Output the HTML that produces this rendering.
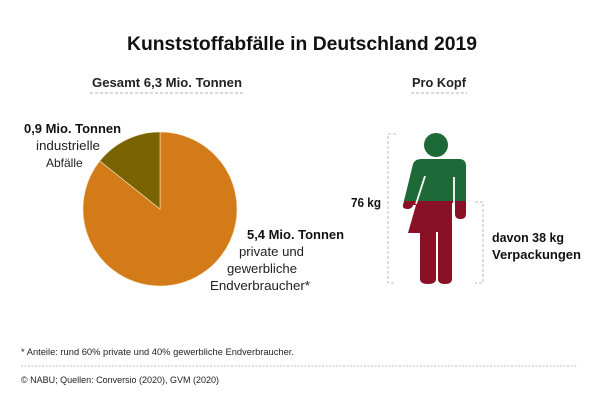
<!DOCTYPE html>
<html><head><meta charset="utf-8"><style>
html,body{margin:0;padding:0;background:#fff}
svg{display:block;font-family:"Liberation Sans",sans-serif}
</style></head><body>
<svg id="chart" width="600" height="400" viewBox="0 0 600 400">
<text x="302" y="50" text-anchor="middle" font-size="19" font-weight="bold" fill="#111" textLength="350" lengthAdjust="spacingAndGlyphs">Kunststoffabfälle in Deutschland 2019</text>
<text x="92" y="87" font-size="12.5" font-weight="bold" fill="#222" textLength="150" lengthAdjust="spacingAndGlyphs">Gesamt 6,3 Mio. Tonnen</text>
<line x1="90" y1="93" x2="245" y2="93" stroke="#999" stroke-dasharray="3,2" stroke-width="0.8"/>
<text x="412" y="87" font-size="12.5" font-weight="bold" fill="#222" textLength="54" lengthAdjust="spacingAndGlyphs">Pro Kopf</text>
<line x1="411" y1="93" x2="467" y2="93" stroke="#999" stroke-dasharray="3,2" stroke-width="0.8"/>
<g id="pie"></g>
<g>
<text x="24" y="133" font-size="12.5" font-weight="bold" fill="#111" textLength="97" lengthAdjust="spacingAndGlyphs">0,9 Mio. Tonnen</text>
<text x="36" y="150" font-size="12.5" fill="#222" textLength="64" lengthAdjust="spacingAndGlyphs">industrielle</text>
<text x="46" y="167" font-size="12" fill="#222">Abfälle</text>
</g>
<g>
<text x="247" y="239" font-size="12.5" font-weight="bold" fill="#111" textLength="97" lengthAdjust="spacingAndGlyphs">5,4 Mio. Tonnen</text>
<text x="239" y="256" font-size="12.5" fill="#222" textLength="65" lengthAdjust="spacingAndGlyphs">private und</text>
<text x="227" y="273" font-size="12.5" fill="#222" textLength="70" lengthAdjust="spacingAndGlyphs">gewerbliche</text>
<text x="210" y="290" font-size="12.5" fill="#222" textLength="100" lengthAdjust="spacingAndGlyphs">Endverbraucher*</text>
</g>
<defs>
<clipPath id="topc"><rect x="380" y="120" width="110" height="81"/></clipPath>
<clipPath id="botc"><rect x="380" y="201" width="110" height="100"/></clipPath>
<g id="person">
<circle cx="436" cy="145" r="12"/>
<path d="M403,205 L413,164 Q415,159 421,159 L459,159 Q466,159 466,166 L466,214 Q466,219 460.5,219 Q455,219 455,214 L455,203 L452,203 L452,279 Q452,284 445,284 Q438,284 438,279 L438,232 L436,232 L436,279 Q436,284 428,284 Q420,284 420,279 L420,233 L408,233 L416,205 L413,205 L413,206 Q411,209 407.5,209 Q402,209 403,205 Z"/>
</g>
</defs>
<g>
<use href="#person" fill="#1d6a38" clip-path="url(#topc)"/>
<use href="#person" fill="#8a1025" clip-path="url(#botc)"/>
<line x1="425" y1="176" x2="416" y2="204" stroke="#fff" stroke-width="1.8"/>
<line x1="454" y1="177" x2="454" y2="204" stroke="#fff" stroke-width="1.8"/>
</g>
<path d="M396,134 L388,134 L388,283 L396,283" fill="none" stroke="#aaa" stroke-width="0.8" stroke-dasharray="3,2"/>
<path d="M475,202 L483,202 L483,283 L475,283" fill="none" stroke="#aaa" stroke-width="0.8" stroke-dasharray="3,2"/>
<text x="351" y="207" font-size="12.5" font-weight="bold" fill="#111" textLength="30" lengthAdjust="spacingAndGlyphs">76 kg</text>
<text x="492" y="242" font-size="12.5" font-weight="bold" fill="#111" textLength="72" lengthAdjust="spacingAndGlyphs">davon 38 kg</text>
<text x="492" y="259" font-size="12.5" font-weight="bold" fill="#111" textLength="89" lengthAdjust="spacingAndGlyphs">Verpackungen</text>
<text x="21" y="355" font-size="9" fill="#222" textLength="273" lengthAdjust="spacingAndGlyphs">* Anteile: rund 60% private und 40% gewerbliche Endverbraucher.</text>
<line x1="21" y1="366" x2="578" y2="366" stroke="#aaa" stroke-width="0.8" stroke-dasharray="2,1.5"/>
<text x="21" y="383" font-size="9" fill="#222" textLength="198" lengthAdjust="spacingAndGlyphs">© NABU; Quellen: Conversio (2020), GVM (2020)</text>
</svg>
<script>
const categories = ["private und gewerbliche Endverbraucher", "industrielle Abfälle"];
const values = [5.4, 0.9];
const colors = ["#d47b19", "#786300"];
const cx = 160, cy = 209, r = 77;
const g = document.getElementById('pie');
const total = values.reduce((a, b) => a + b, 0);
let start = 0;
function pt(f) { const a = f * 2 * Math.PI - Math.PI / 2; return [cx + r * Math.cos(a), cy + r * Math.sin(a)]; }
values.forEach((v, i) => {
  const f0 = start / total, f1 = (start + v) / total;
  const [x0, y0] = pt(f0), [x1, y1] = pt(f1);
  const large = (f1 - f0) > 0.5 ? 1 : 0;
  const p = document.createElementNS('http://www.w3.org/2000/svg', 'path');
  p.setAttribute('d', `M${cx},${cy} L${x0},${y0} A${r},${r} 0 ${large} 1 ${x1},${y1} Z`);
  p.setAttribute('fill', colors[i]);
  p.setAttribute('stroke', '#f3e6c8');
  p.setAttribute('stroke-width', '0.6');
  
  
  g.appendChild(p);
  start += v;
});
</script>
</body></html>
